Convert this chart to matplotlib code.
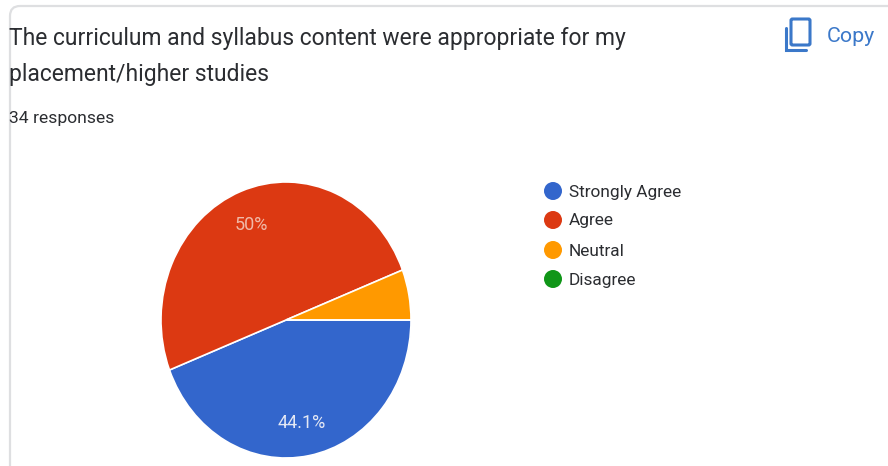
import matplotlib
matplotlib.use("Agg")
import matplotlib.pyplot as plt
from matplotlib.patches import Circle, FancyBboxPatch, PathPatch
from matplotlib.path import Path

WIDTH = 888
HEIGHT = 466

TITLE_LINES = [
    "The curriculum and syllabus content were appropriate for my",
    "placement/higher studies",
]
SUBTITLE = "34 responses"
CATEGORIES = ["Strongly Agree", "Agree", "Neutral", "Disagree"]
VALUES = [44.1, 50.0, 5.9, 0.0]
SLICE_LABELS = ["44.1%", "50%", "", ""]
COLORS = ["#3366CC", "#DC3912", "#FF9900", "#109618"]

INK = "#2B2D31"
BLUE = "#3B78C9"
BORDER = "#DEDFE1"

plt.rcParams["font.family"] = ["Roboto", "DejaVu Sans"]

fig = plt.figure(figsize=(WIDTH / 100, HEIGHT / 100), dpi=100)
fig.patch.set_facecolor("white")

# page layer in pixel coordinates, y going down like the screenshot
page = fig.add_axes([0, 0, 1, 1])
page.set_xlim(0, WIDTH)
page.set_ylim(HEIGHT, 0)
page.axis("off")

card = FancyBboxPatch(
    (10, 6), 1000, 700,
    boxstyle="round,pad=0,rounding_size=10",
    facecolor="none", edgecolor=BORDER, linewidth=1.6,
)
page.add_patch(card)

page.text(9, 38, TITLE_LINES[0], fontsize=16.5, color=INK, va="center", ha="left")
page.text(9, 75, TITLE_LINES[1], fontsize=16.5, color=INK, va="center", ha="left")
page.text(9, 118, SUBTITLE, fontsize=12.6, color=INK, va="center", ha="left")

# copy icon
front = FancyBboxPatch(
    (791, 19), 19, 26,
    boxstyle="round,pad=0,rounding_size=1.5",
    facecolor="none", edgecolor=BLUE, linewidth=2.2,
)
page.add_patch(front)
back = Path([(786, 28), (786, 50), (806, 50)], [Path.MOVETO, Path.LINETO, Path.LINETO])
page.add_patch(PathPatch(back, facecolor="none", edgecolor=BLUE, linewidth=2.2, capstyle="round"))
page.text(827, 36, "Copy", fontsize=15.4, color=BLUE, va="center", ha="left")

# legend
legend_y = [191, 220, 250, 279]
for name, color, y in zip(CATEGORIES, COLORS, legend_y):
    page.add_patch(Circle((553, y), 9, facecolor=color, edgecolor="none"))
    page.text(568.5, y + 1, name, fontsize=12.4, color=INK, va="center", ha="left")

# pie, stretched a little taller than wide as in the screenshot
left, right, top, bottom = 161, 411, 182, 458
ax = fig.add_axes([
    left / WIDTH,
    1 - bottom / HEIGHT,
    (right - left) / WIDTH,
    (bottom - top) / HEIGHT,
])
wedges, _ = ax.pie(
    VALUES,
    colors=COLORS,
    startangle=0,
    counterclock=False,
    radius=1.0,
    wedgeprops={"edgecolor": "white", "linewidth": 1.2},
)
ax.set_aspect("auto")
ax.set_xlim(-1, 1)
ax.set_ylim(-1, 1)
ax.patch.set_alpha(0)

page.text(302, 423, SLICE_LABELS[0], fontsize=13, color="#E4E8F4", va="center", ha="center", zorder=5)
page.text(251, 225, SLICE_LABELS[1], fontsize=13, color="#F0B9A8", va="center", ha="center", zorder=5)
ax.set_zorder(1)
page.set_zorder(2)
page.patch.set_alpha(0)

fig.savefig("out.png", dpi=100)
